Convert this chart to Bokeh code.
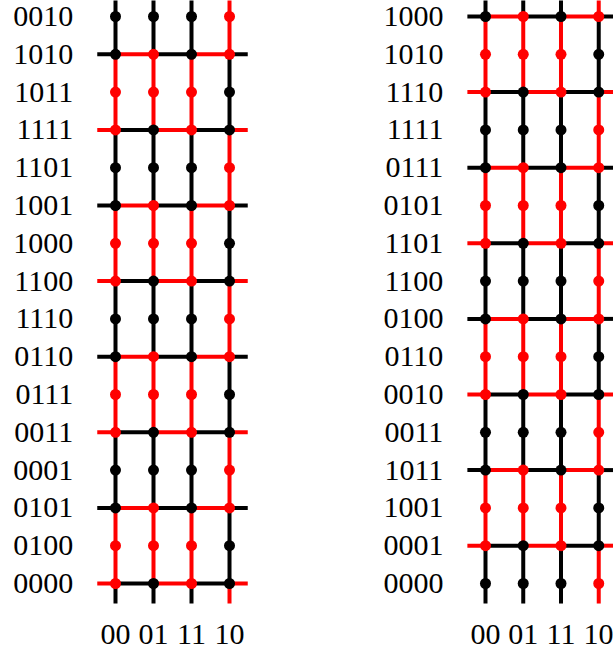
from bokeh.plotting import figure
from bokeh.layouts import row
from bokeh.models import FixedTicker, Range1d
from bokeh.embed import file_html
from bokeh.resources import INLINE

# ---------------- data ----------------
col_labels = ["00", "01", "11", "10"]

# row labels, bottom -> top
left_rows = ["0000", "0100", "0101", "0001", "0011", "0111", "0110", "1110",
             "1100", "1000", "1001", "1101", "1111", "1011", "1010", "0010"]
right_rows = ["0000", "0001", "1001", "1011", "0011", "0010", "0110", "0100",
              "1100", "1101", "0101", "0111", "1111", "1110", "1010", "1000"]

# dot colour per row (bottom -> top), one char per column (r = red, k = black)
left_dots = ["rkrk", "rrrk", "krkr", "kkkr", "rkrk", "rrrk", "krkr", "kkkr",
             "rkrk", "rrrk", "krkr", "kkkr", "rkrk", "rrrk", "krkr", "kkkr"]
right_dots = ["kkkr", "rkrk", "rrrk", "krkr", "kkkr", "rkrk", "rrrk", "krkr",
              "kkkr", "rkrk", "rrrk", "krkr", "kkkr", "rkrk", "rrrk", "krkr"]

# vertical segment colours per column: below row 0, between rows, above top row
left_vert = {"00": "krrkkrrkkrrkkrrkk", "01": "krrkkrrkkrrkkrrkk",
             "11": "krrkkrrkkrrkkrrkk", "10": "rkkrrkkrrkkrrkkrr"}
right_vert = {"00": "kkrrkkrrkkrrkkrrk", "01": "kkrrkkrrkkrrkkrrk",
              "11": "kkrrkkrrkkrrkkrrk", "10": "rrkkrrkkrrkkrrkkr"}

# horizontal lines: row label -> colours (left stub, 3 links, right stub)
left_h = {"0000": "rkrkr", "0101": "krkrk", "0011": "rkrkr", "0110": "krkrk",
          "1100": "rkrkr", "1001": "krkrk", "1111": "rkrkr", "1010": "krkrk"}
right_h = {"0001": "rkrkr", "1011": "krkrk", "0010": "rkrkr", "0100": "krkrk",
           "1101": "rkrkr", "0111": "krkrk", "1110": "rkrkr", "1000": "krkrk"}

COL = {"r": "#ff0000", "k": "#000000"}
FONT = "Liberation Serif"
STUB_X = 0.48
STUB_Y = 0.53
LW = 4
DOT = 11
H = 655


def panel(rows, dots, vert, hlines, width, x_start, x_end):
    p = figure(width=width, height=H, output_backend="svg",
               toolbar_location=None, title=None,
               x_range=Range1d(x_start, x_end), y_range=Range1d(-1.905, 15.423),
               min_border=0, min_border_left=0, min_border_right=0,
               min_border_top=0, min_border_bottom=0)
    p.outline_line_color = None
    p.grid.visible = False
    p.background_fill_color = "white"
    p.border_fill_color = "white"

    n = len(rows)
    # vertical segments
    vx0, vy0, vx1, vy1, vc = [], [], [], [], []
    for ci, c in enumerate(col_labels):
        cols = vert[c]
        for j, ch in enumerate(cols):
            y0 = -STUB_Y if j == 0 else j - 1
            y1 = n + 1 if j == n else j
            vx0.append(ci); vx1.append(ci); vy0.append(y0); vy1.append(y1)
            vc.append(COL[ch])
    # horizontal segments
    hx0, hy0, hx1, hy1, hc = [], [], [], [], []
    for lab, cols in hlines.items():
        r = rows.index(lab)
        xs = [-STUB_X, 0, 1, 2, 3, 3 + STUB_X]
        for k, ch in enumerate(cols):
            hx0.append(xs[k]); hx1.append(xs[k + 1]); hy0.append(r); hy1.append(r)
            hc.append(COL[ch])
    p.segment(x0=vx0, y0=vy0, x1=vx1, y1=vy1, line_color=vc, line_width=LW,
              line_cap="butt")
    p.segment(x0=hx0, y0=hy0, x1=hx1, y1=hy1, line_color=hc, line_width=LW,
              line_cap="butt")
    # dots
    dx, dy, dc = [], [], []
    for r, s in enumerate(dots):
        for ci, ch in enumerate(s):
            dx.append(ci); dy.append(r); dc.append(COL[ch])
    p.scatter(x=dx, y=dy, size=DOT, fill_color=dc, line_color=None)

    for ax in (p.xaxis[0], p.yaxis[0]):
        ax.axis_line_color = None
        ax.major_tick_line_color = None
        ax.minor_tick_line_color = None
        ax.major_tick_out = 0
        ax.major_tick_in = 0
        ax.major_label_text_font = FONT
        ax.major_label_text_font_size = "30px"
        ax.major_label_text_color = "black"
    p.yaxis[0].ticker = FixedTicker(ticks=list(range(n)))
    p.yaxis[0].major_label_overrides = {i: lab for i, lab in enumerate(rows)}
    p.yaxis[0].fixed_location = -STUB_X
    p.yaxis[0].major_label_standoff = 24
    p.xaxis[0].ticker = FixedTicker(ticks=list(range(len(col_labels))))
    p.xaxis[0].major_label_overrides = {i: lab for i, lab in enumerate(col_labels)}
    p.xaxis[0].fixed_location = -STUB_Y
    p.xaxis[0].major_label_standoff = 21
    return p


p1 = panel(left_rows, left_dots, left_vert, left_h, 300, -3.026, 4.868)
p2 = panel(right_rows, right_dots, right_vert, right_h, 313, -4.901, 3.391)
layout = row(p1, p2)

open("out.html", "w").write(file_html(layout, INLINE))
